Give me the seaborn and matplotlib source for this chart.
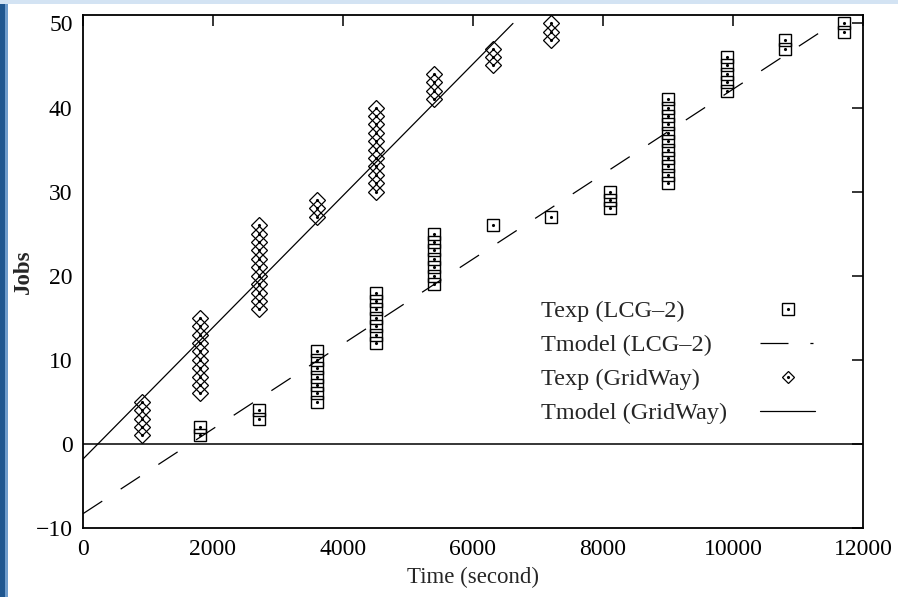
import matplotlib
matplotlib.use("Agg")
import matplotlib.pyplot as plt
from matplotlib.lines import Line2D
from matplotlib.patches import Rectangle
import seaborn as sns
import pandas as pd

# ---------------- data ----------------
# Texp (GridWay): completion time of each job
gw_time = [900, 900, 900, 900, 900,
           1800, 1800, 1800, 1800, 1800, 1800, 1800, 1800, 1800, 1800,
           2700, 2700, 2700, 2700, 2700, 2700, 2700, 2700, 2700, 2700, 2700,
           3600, 3600, 3600,
           4500, 4500, 4500, 4500, 4500, 4500, 4500, 4500, 4500, 4500, 4500,
           5400, 5400, 5400, 5400,
           6300, 6300, 6300,
           7200, 7200, 7200]
gw_jobs = [1, 2, 3, 4, 5,
           6, 7, 8, 9, 10, 11, 12, 13, 14, 15,
           16, 17, 18, 19, 20, 21, 22, 23, 24, 25, 26,
           27, 28, 29,
           30, 31, 32, 33, 34, 35, 36, 37, 38, 39, 40,
           41, 42, 43, 44,
           45, 46, 47,
           48, 49, 50]

# Texp (LCG-2)
lcg_time = [1800, 1800,
            2700, 2700,
            3600, 3600, 3600, 3600, 3600, 3600, 3600,
            4500, 4500, 4500, 4500, 4500, 4500, 4500,
            5400, 5400, 5400, 5400, 5400, 5400, 5400,
            6300,
            7200,
            8100, 8100, 8100,
            9000, 9000, 9000, 9000, 9000, 9000, 9000, 9000, 9000, 9000, 9000,
            9900, 9900, 9900, 9900, 9900,
            10800, 10800,
            11700, 11700]
lcg_jobs = [1, 2,
            3, 4,
            5, 6, 7, 8, 9, 10, 11,
            12, 13, 14, 15, 16, 17, 18,
            19, 20, 21, 22, 23, 24, 25,
            26,
            27,
            28, 29, 30,
            31, 32, 33, 34, 35, 36, 37, 38, 39, 40, 41,
            42, 43, 44, 45, 46,
            47, 48,
            49, 50]

# Model lines (end points)
gw_model_time = [0, 6615]
gw_model_jobs = [-1.8, 50]
lcg_model_time = [0, 11550]
lcg_model_jobs = [-8.3, 50]

x_ticks = [0, 2000, 4000, 6000, 8000, 10000, 12000]
y_ticks = [-10, 0, 10, 20, 30, 40, 50]

labels = ["Texp (LCG\u20132)", "Tmodel (LCG\u20132)", "Texp (GridWay)", "Tmodel (GridWay)"]

# ---------------- drawing ----------------
sns.set_theme(style="white")
plt.rcParams['font.family'] = ['Liberation Serif', 'DejaVu Serif']
plt.rcParams['axes.unicode_minus'] = True

fig = plt.figure(figsize=(8.98, 5.97), dpi=100)
fig.patch.set_facecolor("white")
# screenshot window edge
fig.patches.append(Rectangle((0, 0), 5 / 898, 1, transform=fig.transFigure,
                             facecolor="#1f568f", edgecolor="none", zorder=-5))
fig.patches.append(Rectangle((5 / 898, 0), 3 / 898, 1, transform=fig.transFigure,
                             facecolor="#6f9ccc", edgecolor="none", zorder=-5))
fig.patches.append(Rectangle((0, 1 - 4 / 597), 1, 4 / 597, transform=fig.transFigure,
                             facecolor="#d3e3f3", edgecolor="none", zorder=-5))

ax = fig.add_axes([83 / 898, 1 - 528 / 597, 780 / 898, 513 / 597])
ax.set_facecolor("white")

df_gw = pd.DataFrame({"t": gw_time, "j": gw_jobs})
df_lcg = pd.DataFrame({"t": lcg_time, "j": lcg_jobs})
df_gwm = pd.DataFrame({"t": gw_model_time, "j": gw_model_jobs})
df_lcgm = pd.DataFrame({"t": lcg_model_time, "j": lcg_model_jobs})

ax.axhline(0, color="black", lw=1.1, zorder=1)

sns.lineplot(data=df_gwm, x="t", y="j", ax=ax, color="black", lw=0.9,
             estimator=None, sort=False, zorder=2)
sns.lineplot(data=df_lcgm, x="t", y="j", ax=ax, color="black", lw=0.9,
             estimator=None, sort=False, zorder=2, dashes=False)
ax.lines[-1].set_dashes([18.4, 17.6])

sq_ms = 9
dm_ms = 8.0
ax.plot(df_lcg["t"], df_lcg["j"], ls="none", marker="s", ms=sq_ms, mfc="none",
        mec="black", mew=1.0, zorder=3)
ax.plot(df_lcg["t"], df_lcg["j"], ls="none", marker=".", ms=2.5, color="black", zorder=3)
ax.plot(df_gw["t"], df_gw["j"], ls="none", marker="D", ms=dm_ms, mfc="none",
        mec="black", mew=0.9, zorder=3)
ax.plot(df_gw["t"], df_gw["j"], ls="none", marker=".", ms=2.5, color="black", zorder=3)

ax.set_xlim(0, 12000)
ax.set_ylim(-10, 51)
ax.set_xticks(x_ticks)
ax.set_yticks(y_ticks)
ax.tick_params(direction="in", length=8, width=1.1, top=True, right=True,
               labelsize=17, colors="black")
ax.tick_params(axis="y", pad=7.5)
ax.tick_params(axis="x", pad=8)
for s in ax.spines.values():
    s.set_color("black")
    s.set_linewidth(1.3)

ax.set_xlabel("Time (second)", fontsize=16.5, labelpad=5)
ax.set_ylabel("Jobs", fontsize=16.5, fontweight="bold", labelpad=1)

h_sq = (Line2D([], [], ls="none", marker="s", ms=sq_ms, mfc="none", mec="black", mew=1.0),
        Line2D([], [], ls="none", marker=".", ms=2.5, color="black"))
h_lcgm = Line2D([], [], color="black", lw=0.9, dashes=[22.4, 17.5, 2.5, 30])
h_dm = (Line2D([], [], ls="none", marker="D", ms=6.5, mfc="none", mec="black", mew=0.9),
        Line2D([], [], ls="none", marker=".", ms=2.5, color="black"))
h_gwm = Line2D([], [], color="black", lw=0.9)
leg = ax.legend([h_sq, h_lcgm, h_dm, h_gwm], labels, loc="upper left",
                bbox_to_anchor=(0.587, 0.444), frameon=False, markerfirst=False,
                fontsize=17.5, handlelength=2.26, handletextpad=1.36,
                labelspacing=0.49, borderpad=0, borderaxespad=0)

# left-align legend texts while keeping the handles in one column
fig.canvas.draw()
renderer = fig.canvas.get_renderer()
widths = [t.get_window_extent(renderer).width for t in leg.get_texts()]
maxw = max(widths)
rows = leg._legend_handle_box.get_children()[0].get_children()
for row, w in zip(rows, widths):
    row.sep += (maxw - w) * 72 / fig.dpi

fig.savefig("out.png", dpi=100)
